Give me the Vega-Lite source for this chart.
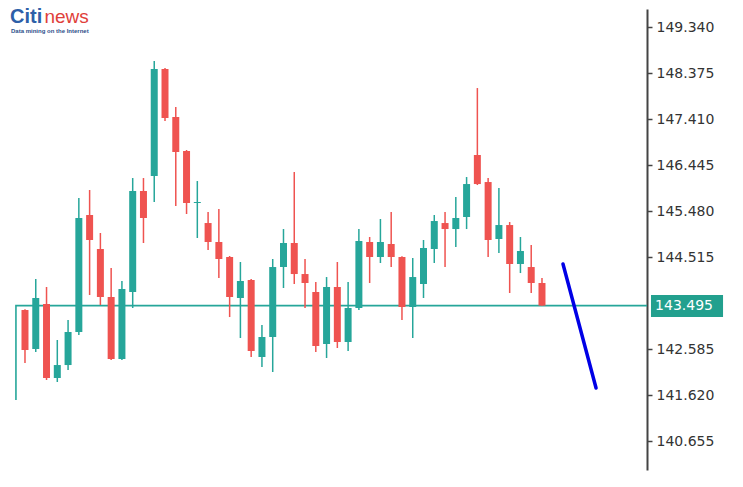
{
  "$schema": "https://vega.github.io/schema/vega-lite/v6.json",
  "width": 647,
  "height": 461,
  "autosize": {"type": "none"},
  "padding": {"left": 0, "top": 9, "right": 96, "bottom": 17},
  "background": "white",
  "config": {"view": {"stroke": null}},
  "datasets": {
    "candles": [
      {"i": 1, "o": 143.403, "h": 143.42, "l": 142.291, "c": 142.564},
      {"i": 2, "o": 142.585, "h": 144.054, "l": 142.522, "c": 143.655},
      {"i": 3, "o": 143.529, "h": 143.886, "l": 141.935, "c": 141.977},
      {"i": 4, "o": 141.977, "h": 142.774, "l": 141.893, "c": 142.249},
      {"i": 5, "o": 142.249, "h": 143.193, "l": 142.145, "c": 142.942},
      {"i": 6, "o": 142.942, "h": 145.753, "l": 142.879, "c": 145.333},
      {"i": 7, "o": 145.396, "h": 145.921, "l": 143.718, "c": 144.872},
      {"i": 8, "o": 144.683, "h": 145.019, "l": 143.508, "c": 143.676},
      {"i": 9, "o": 143.676, "h": 144.284, "l": 142.354, "c": 142.375},
      {"i": 10, "o": 142.375, "h": 144.012, "l": 142.354, "c": 143.844},
      {"i": 11, "o": 143.781, "h": 146.172, "l": 143.445, "c": 145.9},
      {"i": 12, "o": 145.9, "h": 146.172, "l": 144.809, "c": 145.333},
      {"i": 13, "o": 146.214, "h": 148.627, "l": 145.669, "c": 148.459},
      {"i": 14, "o": 148.459, "h": 148.48, "l": 147.368, "c": 147.431},
      {"i": 15, "o": 147.452, "h": 147.662, "l": 145.585, "c": 146.718},
      {"i": 16, "o": 146.739, "h": 146.76, "l": 145.417, "c": 145.648},
      {"i": 17, "o": 145.648, "h": 146.109, "l": 144.914, "c": 145.669},
      {"i": 18, "o": 145.228, "h": 145.459, "l": 144.662, "c": 144.83},
      {"i": 19, "o": 144.83, "h": 145.522, "l": 144.075, "c": 144.473},
      {"i": 20, "o": 144.515, "h": 144.536, "l": 143.256, "c": 143.676},
      {"i": 21, "o": 143.655, "h": 144.41, "l": 142.816, "c": 144.012},
      {"i": 22, "o": 144.033, "h": 144.054, "l": 142.417, "c": 142.543},
      {"i": 23, "o": 142.417, "h": 143.089, "l": 142.207, "c": 142.837},
      {"i": 24, "o": 142.837, "h": 144.473, "l": 142.103, "c": 144.305},
      {"i": 25, "o": 144.305, "h": 145.102, "l": 143.865, "c": 144.809},
      {"i": 26, "o": 144.809, "h": 146.298, "l": 143.949, "c": 144.158},
      {"i": 27, "o": 144.158, "h": 144.473, "l": 143.445, "c": 143.97},
      {"i": 28, "o": 143.781, "h": 143.991, "l": 142.522, "c": 142.648},
      {"i": 29, "o": 142.69, "h": 144.095, "l": 142.396, "c": 143.886},
      {"i": 30, "o": 143.886, "h": 144.41, "l": 142.606, "c": 142.732},
      {"i": 31, "o": 142.732, "h": 143.991, "l": 142.543, "c": 143.445},
      {"i": 32, "o": 143.445, "h": 145.102, "l": 143.403, "c": 144.851},
      {"i": 33, "o": 144.83, "h": 144.935, "l": 143.97, "c": 144.515},
      {"i": 34, "o": 144.515, "h": 145.312, "l": 144.389, "c": 144.83},
      {"i": 35, "o": 144.788, "h": 145.459, "l": 144.305, "c": 144.515},
      {"i": 36, "o": 144.515, "h": 144.53, "l": 143.193, "c": 143.466},
      {"i": 37, "o": 143.466, "h": 144.494, "l": 142.816, "c": 144.095},
      {"i": 38, "o": 143.949, "h": 144.872, "l": 143.655, "c": 144.704},
      {"i": 39, "o": 144.683, "h": 145.396, "l": 144.389, "c": 145.27},
      {"i": 40, "o": 145.228, "h": 145.459, "l": 144.305, "c": 145.102},
      {"i": 41, "o": 145.102, "h": 145.774, "l": 144.725, "c": 145.333},
      {"i": 42, "o": 145.354, "h": 146.193, "l": 145.102, "c": 146.046},
      {"i": 43, "o": 146.655, "h": 148.06, "l": 146.025, "c": 146.046},
      {"i": 44, "o": 146.088, "h": 146.172, "l": 144.515, "c": 144.872},
      {"i": 45, "o": 144.893, "h": 145.963, "l": 144.599, "c": 145.186},
      {"i": 46, "o": 145.186, "h": 145.249, "l": 143.76, "c": 144.368},
      {"i": 47, "o": 144.368, "h": 144.935, "l": 144.179, "c": 144.641},
      {"i": 48, "o": 144.305, "h": 144.767, "l": 143.76, "c": 143.97},
      {"i": 49, "o": 143.97, "h": 144.075, "l": 143.495, "c": 143.495}
    ],
    "priceline": [
      {"k": 1, "i": 0.16, "p": 141.515},
      {"k": 2, "i": 0.16, "p": 143.495},
      {"k": 3, "i": 58.75, "p": 143.495}
    ],
    "forecast": [
      {"k": 1, "i": 50.95, "p": 144.368},
      {"k": 2, "i": 54.02, "p": 141.767}
    ],
    "pricelabel": [
      {"i0": 59.12, "i1": 65.81, "lo": 143.257, "hi": 143.718, "p": 143.495, "ti": 59.5, "label": "143.495"}
    ],
    "logo": [
      {"brand": "Citi", "suffix": "news", "tagline": "Data mining on the Internet"}
    ]
  },
  "layer": [
    {
      "data": {"name": "priceline"},
      "mark": {"type": "line", "color": "#26a69a", "strokeWidth": 1.6, "clip": false},
      "encoding": {
        "x": {"field": "i", "type": "quantitative", "scale": {"domain": [-1.32, 58.75], "nice": false, "zero": false, "padding": 0}, "axis": null},
        "y": {"field": "p", "type": "quantitative", "scale": {"domain": [140.047, 149.718], "nice": false, "zero": false, "padding": 0},
          "axis": {"orient": "right", "title": null, "grid": false, "values": [149.34, 148.375, 147.41, 146.445, 145.48, 144.515, 142.585, 141.62, 140.655],
            "format": ".3f", "labelFont": "DejaVu Sans", "labelFontSize": 14, "labelColor": "#333333",
            "tickSize": 5, "tickColor": "#444444", "tickWidth": 1.5, "domainColor": "#444444", "domainWidth": 2, "labelPadding": 4}},
        "order": {"field": "k", "type": "quantitative"}
      }
    },
    {
      "data": {"name": "candles"},
      "mark": {"type": "rule", "strokeWidth": 1.5},
      "encoding": {
        "x": {"field": "i", "type": "quantitative", "scale": {"domain": [-1.32, 58.75], "nice": false, "zero": false, "padding": 0}, "axis": null},
        "y": {"field": "l", "type": "quantitative", "scale": {"domain": [140.047, 149.718], "nice": false, "zero": false, "padding": 0},
          "axis": {"orient": "right", "title": null, "grid": false, "values": [149.34, 148.375, 147.41, 146.445, 145.48, 144.515, 142.585, 141.62, 140.655],
            "format": ".3f", "labelFont": "DejaVu Sans", "labelFontSize": 14, "labelColor": "#333333",
            "tickSize": 5, "tickColor": "#444444", "tickWidth": 1.5, "domainColor": "#444444", "domainWidth": 2, "labelPadding": 4}},
        "y2": {"field": "h"},
        "color": {"condition": {"test": "datum.c >= datum.o", "value": "#26a69a"}, "value": "#ef5350"}
      }
    },
    {
      "data": {"name": "candles"},
      "mark": {"type": "bar", "size": 7},
      "encoding": {
        "x": {"field": "i", "type": "quantitative", "scale": {"domain": [-1.32, 58.75], "nice": false, "zero": false, "padding": 0}, "axis": null},
        "y": {"field": "o", "type": "quantitative", "scale": {"domain": [140.047, 149.718], "nice": false, "zero": false, "padding": 0},
          "axis": {"orient": "right", "title": null, "grid": false, "values": [149.34, 148.375, 147.41, 146.445, 145.48, 144.515, 142.585, 141.62, 140.655],
            "format": ".3f", "labelFont": "DejaVu Sans", "labelFontSize": 14, "labelColor": "#333333",
            "tickSize": 5, "tickColor": "#444444", "tickWidth": 1.5, "domainColor": "#444444", "domainWidth": 2, "labelPadding": 4}},
        "y2": {"field": "c"},
        "color": {"condition": {"test": "datum.c >= datum.o", "value": "#26a69a"}, "value": "#ef5350"}
      }
    },
    {
      "data": {"name": "forecast"},
      "mark": {"type": "line", "color": "#0000e6", "strokeWidth": 3.5, "strokeCap": "round"},
      "encoding": {
        "x": {"field": "i", "type": "quantitative", "scale": {"domain": [-1.32, 58.75], "nice": false, "zero": false, "padding": 0}, "axis": null},
        "y": {"field": "p", "type": "quantitative", "scale": {"domain": [140.047, 149.718], "nice": false, "zero": false, "padding": 0},
          "axis": {"orient": "right", "title": null, "grid": false, "values": [149.34, 148.375, 147.41, 146.445, 145.48, 144.515, 142.585, 141.62, 140.655],
            "format": ".3f", "labelFont": "DejaVu Sans", "labelFontSize": 14, "labelColor": "#333333",
            "tickSize": 5, "tickColor": "#444444", "tickWidth": 1.5, "domainColor": "#444444", "domainWidth": 2, "labelPadding": 4}},
        "order": {"field": "k", "type": "quantitative"}
      }
    },
    {
      "data": {"name": "pricelabel"},
      "mark": {"type": "rect", "color": "#22a08e", "clip": false},
      "encoding": {
        "x": {"field": "i0", "type": "quantitative", "scale": {"domain": [-1.32, 58.75], "nice": false, "zero": false, "padding": 0}, "axis": null},
        "x2": {"field": "i1"},
        "y": {"field": "lo", "type": "quantitative", "scale": {"domain": [140.047, 149.718], "nice": false, "zero": false, "padding": 0},
          "axis": {"orient": "right", "title": null, "grid": false, "values": [149.34, 148.375, 147.41, 146.445, 145.48, 144.515, 142.585, 141.62, 140.655],
            "format": ".3f", "labelFont": "DejaVu Sans", "labelFontSize": 14, "labelColor": "#333333",
            "tickSize": 5, "tickColor": "#444444", "tickWidth": 1.5, "domainColor": "#444444", "domainWidth": 2, "labelPadding": 4}},
        "y2": {"field": "hi"}
      }
    },
    {
      "data": {"name": "pricelabel"},
      "mark": {"type": "text", "color": "white", "font": "DejaVu Sans", "fontSize": 14, "align": "left", "baseline": "middle", "clip": false},
      "encoding": {
        "x": {"field": "ti", "type": "quantitative", "scale": {"domain": [-1.32, 58.75], "nice": false, "zero": false, "padding": 0}, "axis": null},
        "y": {"field": "p", "type": "quantitative", "scale": {"domain": [140.047, 149.718], "nice": false, "zero": false, "padding": 0},
          "axis": {"orient": "right", "title": null, "grid": false, "values": [149.34, 148.375, 147.41, 146.445, 145.48, 144.515, 142.585, 141.62, 140.655],
            "format": ".3f", "labelFont": "DejaVu Sans", "labelFontSize": 14, "labelColor": "#333333",
            "tickSize": 5, "tickColor": "#444444", "tickWidth": 1.5, "domainColor": "#444444", "domainWidth": 2, "labelPadding": 4}},
        "text": {"field": "label"}
      }
    },
    {
      "data": {"name": "logo"},
      "mark": {"type": "text", "color": "#2e5fa8", "font": "Liberation Sans", "fontSize": 20, "fontWeight": "bold", "align": "left", "baseline": "alphabetic"},
      "encoding": {
        "x": {"datum": -0.39, "type": "quantitative", "scale": {"domain": [-1.32, 58.75], "nice": false, "zero": false, "padding": 0}, "axis": null},
        "y": {"datum": 149.424, "type": "quantitative", "scale": {"domain": [140.047, 149.718], "nice": false, "zero": false, "padding": 0},
          "axis": {"orient": "right", "title": null, "grid": false, "values": [149.34, 148.375, 147.41, 146.445, 145.48, 144.515, 142.585, 141.62, 140.655],
            "format": ".3f", "labelFont": "DejaVu Sans", "labelFontSize": 14, "labelColor": "#333333",
            "tickSize": 5, "tickColor": "#444444", "tickWidth": 1.5, "domainColor": "#444444", "domainWidth": 2, "labelPadding": 4}},
        "text": {"field": "brand"}
      }
    },
    {
      "data": {"name": "logo"},
      "mark": {"type": "text", "color": "#e0403a", "font": "Liberation Sans", "fontSize": 19, "align": "left", "baseline": "alphabetic"},
      "encoding": {
        "x": {"datum": 2.8, "type": "quantitative", "scale": {"domain": [-1.32, 58.75], "nice": false, "zero": false, "padding": 0}, "axis": null},
        "y": {"datum": 149.424, "type": "quantitative", "scale": {"domain": [140.047, 149.718], "nice": false, "zero": false, "padding": 0},
          "axis": {"orient": "right", "title": null, "grid": false, "values": [149.34, 148.375, 147.41, 146.445, 145.48, 144.515, 142.585, 141.62, 140.655],
            "format": ".3f", "labelFont": "DejaVu Sans", "labelFontSize": 14, "labelColor": "#333333",
            "tickSize": 5, "tickColor": "#444444", "tickWidth": 1.5, "domainColor": "#444444", "domainWidth": 2, "labelPadding": 4}},
        "text": {"field": "suffix"}
      }
    },
    {
      "data": {"name": "logo"},
      "mark": {"type": "text", "color": "#2e4f8a", "font": "Liberation Sans", "fontSize": 6, "fontWeight": "bold", "align": "left", "baseline": "alphabetic"},
      "encoding": {
        "x": {"datum": -0.3, "type": "quantitative", "scale": {"domain": [-1.32, 58.75], "nice": false, "zero": false, "padding": 0}, "axis": null},
        "y": {"datum": 149.214, "type": "quantitative", "scale": {"domain": [140.047, 149.718], "nice": false, "zero": false, "padding": 0},
          "axis": {"orient": "right", "title": null, "grid": false, "values": [149.34, 148.375, 147.41, 146.445, 145.48, 144.515, 142.585, 141.62, 140.655],
            "format": ".3f", "labelFont": "DejaVu Sans", "labelFontSize": 14, "labelColor": "#333333",
            "tickSize": 5, "tickColor": "#444444", "tickWidth": 1.5, "domainColor": "#444444", "domainWidth": 2, "labelPadding": 4}},
        "text": {"field": "tagline"}
      }
    }
  ]
}
